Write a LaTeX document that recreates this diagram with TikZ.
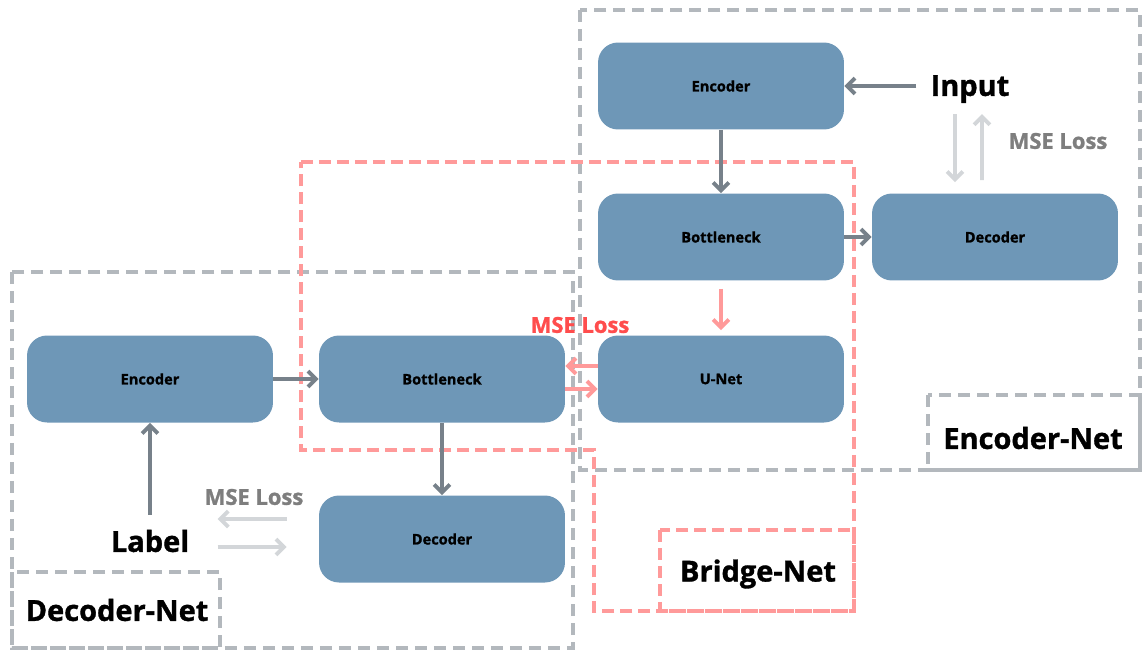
\documentclass[tikz,border=0pt]{standalone}
\usepackage{fontspec}
\setmainfont{Open Sans}[BoldFeatures={FakeBold=1.2}]
\usetikzlibrary{arrows.meta,calc}
\definecolor{boxblue}{HTML}{6E97B7}
\definecolor{flowgrey}{HTML}{77818A}
\definecolor{softgrey}{HTML}{D3D6D9}
\definecolor{dashgrey}{HTML}{B3B8BD}
\definecolor{dashred}{HTML}{FF9A9A}
\definecolor{lossred}{HTML}{FF4D4D}
\definecolor{lossgrey}{HTML}{7E7E7E}
\tikzset{> = {Straight Barb[length=4.5pt,width=9pt]},
	block/.style={fill=boxblue, rounded corners=0.4cm, minimum width=4.92cm, minimum height=1.74cm, font=\fontsize{8.3}{9}\selectfont\bfseries},
	flow/.style={->, draw=flowgrey, line width=2.2pt},
	soft/.style={->, draw=softgrey, line width=2.2pt},
	redflow/.style={->, draw=dashred, line width=2.2pt},
	greybox/.style={draw=dashgrey, line width=2.2pt, dash pattern=on 0.24cm off 0.14cm},
	redbox/.style={draw=dashred, line width=2.2pt, dash pattern=on 0.24cm off 0.12cm},
	title/.style={inner sep=0pt, font=\fontsize{16.5}{18}\selectfont\bfseries},
	loss/.style={inner sep=0pt, font=\fontsize{12.5}{14}\selectfont\bfseries}}
\begin{document}
\begin{tikzpicture}[x=0.02cm, y=-0.02cm]
		\useasboundingbox (0,0) rectangle (1143,650);
		\draw[greybox] (580,10) rectangle (1140,470);
		\draw[greybox] (928,395) rectangle (1140,470);
		\draw[greybox] (12,272) rectangle (573,648);
		\draw[greybox] (12,572) rectangle (220,648);
		\draw[redbox] (301,162) -- (854,162) -- (854,611) -- (594,611) -- (594,450) -- (301,450) -- cycle;
		\draw[redbox] (660,530) rectangle (854,611);
		\node[block] (enc1) at (721,86) {Encoder};
		\node[block] (bn1) at (721,237) {Bottleneck};
		\node[block] (dec1) at (995,237) {Decoder};
		\node[block] (unet) at (721,379) {U-Net};
		\node[block] (bn2) at (442,379) {Bottleneck};
		\node[block] (enc2) at (150,379) {Encoder};
		\node[block] (dec2) at (442,539) {Decoder};
		\node[title] (inp) at (970,89) {Input};
		\node[title] (lab) at (150,541) {Label};
		\node[title] (encnet) at (1033,438) {Encoder-Net};
		\node[title] (bridgenet) at (758,574) {Bridge-Net};
		\node[title] (decnet) at (117,610) {Decoder-Net};
		\node[loss, text=lossgrey] (loss1) at (1058,141) {MSE Loss};
		\node[loss, text=lossred] (loss2) at (580,325) {MSE Loss};
		\node[loss, text=lossgrey] (loss3) at (254,497) {MSE Loss};
		\draw[flow, shorten <=0.28cm] (enc1.east -| inp.west) -- (enc1.east);
		\draw[flow] (enc1.south) -- (bn1.north);
		\draw[flow] (bn1.east) -- (dec1.west);
		\draw[flow] (enc2.east) -- (bn2.west);
		\draw[flow] (bn2.south) -- (dec2.north);
		\draw[flow, shorten <=0.3cm] (lab.north) -- (enc2.south);
		\draw[redflow, shorten <=0.16cm, shorten >=0.1cm] (bn1.south) -- (unet.north);
		\draw[redflow] ([yshift=0.26cm]unet.west) -- ([yshift=0.26cm]bn2.east);
		\draw[redflow] ([yshift=-0.2cm]bn2.east) -- ([yshift=-0.2cm]unet.west);
		\draw[soft] ([xshift=-0.3cm,yshift=-0.22cm]inp.south) -- ([xshift=-0.8cm,yshift=0.22cm]dec1.north);
		\draw[soft] ([xshift=-0.26cm,yshift=0.26cm]dec1.north) -- ([xshift=0.24cm,yshift=-0.22cm]inp.south);
		\draw[soft] ([xshift=-0.64cm,yshift=0.4cm]dec2.west) -- ([xshift=-2.02cm,yshift=0.4cm]dec2.west);
		\draw[soft] ([xshift=-2.02cm,yshift=-0.16cm]dec2.west) -- ([xshift=-0.64cm,yshift=-0.16cm]dec2.west);
\end{tikzpicture}
\end{document}
